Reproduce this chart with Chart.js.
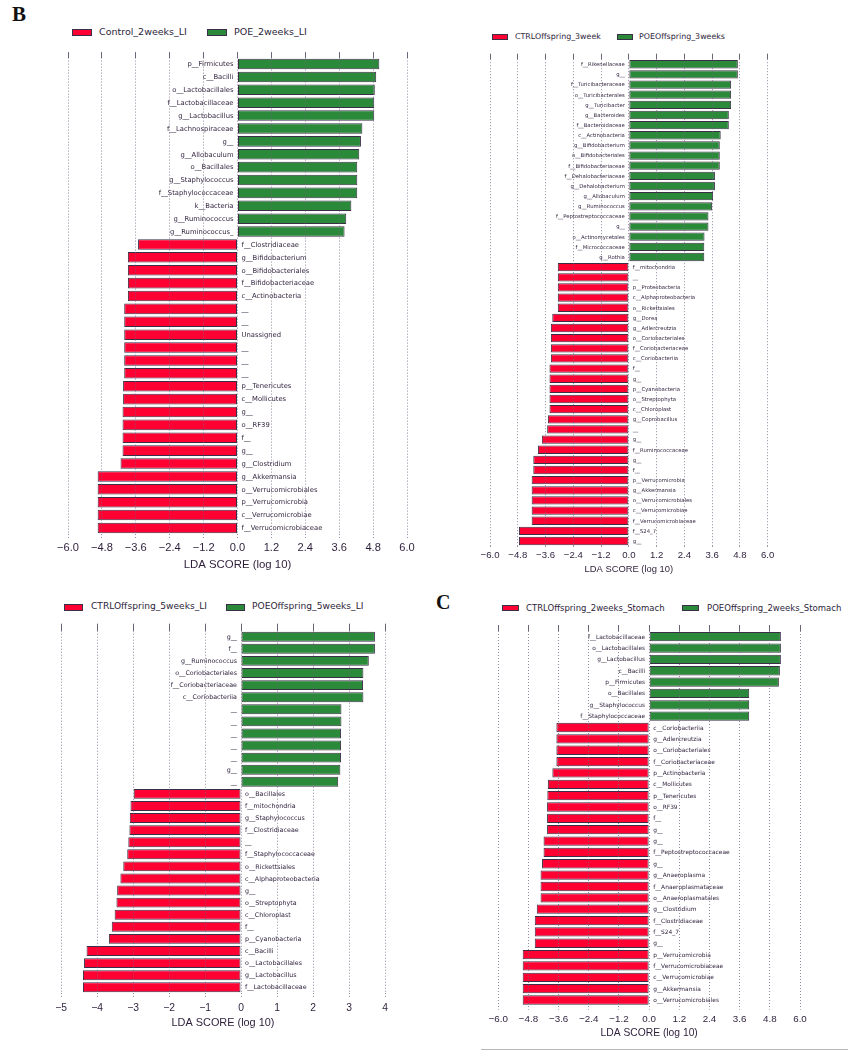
<!DOCTYPE html>
<html>
<head>
<meta charset="utf-8">
<script src="https://cdn.jsdelivr.net/npm/chart.js@4.4.0/dist/chart.umd.min.js"></script>
<style>
  html, body { margin: 0; padding: 0; background: #fff; }
  body { position: relative; width: 848px; height: 1050px; overflow: hidden; font-family: "DejaVu Sans", sans-serif; color: #2d1e3a; }
  canvas { position: absolute; }
  .panel-tag { position: absolute; font-family: "Liberation Serif", serif; font-weight: bold; line-height: 1; color: #111; }
  .swatch { position: absolute; box-sizing: border-box; border: 1px solid #3b2f47; }
  .leg-text { position: absolute; white-space: nowrap; line-height: 1; transform: translateY(-50%); }
  .rule { position: absolute; left: 481px; top: 1049px; width: 367px; height: 1px; background: #b8b8b8; }
</style>
</head>
<body>
<div class="panel-tag" style="left:12px; top:4px; font-size:21px;">B</div>
<div class="panel-tag" style="left:436px; top:592px; font-size:20px;">C</div>
<div class="rule"></div>
<script>
const RED = '#ff0033';
const GREEN = '#2b8a3a';
const EDGE = '#3b2f47';
const INK = '#2d1e3a';
const GRID = 'rgba(110,100,125,0.75)';

// top left: large intestine, 2 weeks
const groups2wLI = ['Control_2weeks_LI', 'POE_2weeks_LI'];
const taxa2wLI = ['p__Firmicutes', 'c__Bacilli', 'o__Lactobacillales', 'f__Lactobacillaceae', 'g__Lactobacillus',
  'f__Lachnospiraceae', 'g__', 'g__Allobaculum', 'o__Bacillales', 'g__Staphylococcus', 'f__Staphylococcaceae',
  'k__Bacteria', 'g__Ruminococcus', 'g__Ruminococcus_',
  'f__Clostridiaceae', 'g__Bifidobacterium', 'o__Bifidobacteriales', 'f__Bifidobacteriaceae', 'c__Actinobacteria',
  '__', '__', 'Unassigned', '__', '__', '__', 'p__Tenericutes', 'c__Mollicutes', 'g__', 'o__RF39', 'f__', 'g__',
  'g__Clostridium', 'g__Akkermansia', 'o__Verrucomicrobiales', 'p__Verrucomicrobia', 'c__Verrucomicrobiae',
  'f__Verrucomicrobiaceae'];
const lda2wLI = [5.02, 4.91, 4.86, 4.84, 4.84, 4.42, 4.37, 4.31, 4.24, 4.24, 4.24, 4.03, 3.85, 3.79,
  -3.52, -3.88, -3.88, -3.88, -3.88, -4.01, -4.01, -4.01, -4.01, -4.01, -4.01, -4.05, -4.05, -4.07, -4.07, -4.07, -4.07,
  -4.14, -4.95, -4.95, -4.95, -4.95, -4.95];

// top right: offspring 3 weeks
const groups3w = ['CTRLOffspring_3week', 'POEOffspring_3weeks'];
const taxa3w = ['f__Rikenellaceae', 'g__', 'f__Turicibacteraceae', 'o__Turicibacterales', 'g__Turicibacter',
  'g__Bacteroides', 'f__Bacteroidaceae', 'c__Actinobacteria', 'g__Bifidobacterium', 'o__Bifidobacteriales',
  'f__Bifidobacteriaceae', 'f__Dehalobacteriaceae', 'g__Dehalobacterium', 'g__Allobaculum', 'g__Ruminococcus',
  'f__Peptostreptococcaceae', 'g__', 'o__Actinomycetales', 'f__Micrococcaceae', 'g__Rothia',
  'f__mitochondria', '__', 'p__Proteobacteria', 'c__Alphaproteobacteria', 'o__Rickettsiales', 'g__Dorea',
  'g__Adlercreutzia', 'o__Coriobacteriales', 'f__Coriobacteriaceae', 'c__Coriobacteriia', 'f__', 'g__',
  'p__Cyanobacteria', 'o__Streptophyta', 'c__Chloroplast', 'g__Coprobacillus', '__', 'g__', 'f__Ruminococcaceae',
  'g__', 'f__', 'p__Verrucomicrobia', 'g__Akkermansia', 'o__Verrucomicrobiales', 'c__Verrucomicrobiae',
  'f__Verrucomicrobiaceae', 'f__S24_7', 'g__'];
const lda3w = [4.71, 4.71, 4.42, 4.42, 4.42, 4.32, 4.32, 3.97, 3.93, 3.93, 3.93, 3.72, 3.72, 3.64, 3.60,
  3.44, 3.44, 3.27, 3.26, 3.26,
  -3.07, -3.07, -3.07, -3.07, -3.07, -3.31, -3.37, -3.37, -3.37, -3.37, -3.43, -3.43, -3.43, -3.43, -3.43,
  -3.50, -3.53, -3.76, -3.93, -4.13, -4.13, -4.20, -4.20, -4.20, -4.20, -4.20, -4.75, -4.75];

// bottom left: offspring 5 weeks, large intestine
const groups5wLI = ['CTRLOffspring_5weeks_LI', 'POEOffspring_5weeks_LI'];
const taxa5wLI = ['g__', 'f__', 'g__Ruminococcus', 'o__Coriobacteriales', 'f__Coriobacteriaceae', 'c__Coriobacteriia',
  '__', '__', '__', '__', '__', 'g__', '__',
  'o__Bacillales', 'f__mitochondria', 'g__Staphylococcus', 'f__Clostridiaceae', '__', 'f__Staphylococcaceae',
  'o__Rickettsiales', 'c__Alphaproteobacteria', 'g__', 'o__Streptophyta', 'c__Chloroplast', 'f__',
  'p__Cyanobacteria', 'c__Bacilli', 'o__Lactobacillales', 'g__Lactobacillus', 'f__Lactobacillaceae'];
const lda5wLI = [3.72, 3.72, 3.55, 3.40, 3.39, 3.40, 2.79, 2.79, 2.78, 2.78, 2.78, 2.76, 2.70,
  -2.98, -3.07, -3.09, -3.10, -3.13, -3.16, -3.27, -3.35, -3.44, -3.46, -3.51, -3.59, -3.67,
  -4.29, -4.36, -4.39, -4.39];

// bottom right: offspring 2 weeks, stomach
const groups2wSt = ['CTRLOffspring_2weeks_Stomach', 'POEOffspring_2weeks_Stomach'];
const taxa2wSt = ['f__Lactobacillaceae', 'o__Lactobacillales', 'g__Lactobacillus', 'c__Bacilli', 'p__Firmicutes',
  'o__Bacillales', 'g__Staphylococcus', 'f__Staphylococcaceae',
  'c__Coriobacteriia', 'g__Adlercreutzia', 'o__Coriobacteriales', 'f__Coriobacteriaceae', 'p__Actinobacteria',
  'c__Mollicutes', 'p__Tenericutes', 'o__RF39', 'f__', 'g__', 'g__', 'f__Peptostreptococcaceae', 'g__',
  'g__Anaeroplasma', 'f__Anaeroplasmataceae', 'o__Anaeroplasmatales', 'g__Clostridium', 'f__Clostridiaceae',
  'f__S24_7', 'g__', 'p__Verrucomicrobia', 'f__Verrucomicrobiaceae', 'c__Verrucomicrobiae', 'g__Akkermansia',
  'o__Verrucomicrobiales'];
const lda2wSt = [5.24, 5.24, 5.24, 5.20, 5.16, 3.98, 3.98, 3.98,
  -3.69, -3.69, -3.69, -3.69, -3.85, -4.03, -4.05, -4.06, -4.06, -4.06, -4.20, -4.20, -4.26,
  -4.32, -4.32, -4.32, -4.47, -4.55, -4.55, -4.55, -5.03, -5.03, -5.03, -5.03, -5.03];

const ticksWide = [-6.0, -4.8, -3.6, -2.4, -1.2, 0.0, 1.2, 2.4, 3.6, 4.8, 6.0];
const ticks5w = [-5, -4, -3, -2, -1, 0, 1, 2, 3, 4];

// taxon names next to the zero line, on the side away from the bar
const barLabels = {
  id: 'barLabels',
  afterDatasetsDraw(chart, args, opts) {
    const { ctx } = chart;
    const x0 = chart.scales.x.getPixelForValue(0);
    const values = chart.data.datasets[0].data;
    ctx.save();
    ctx.font = opts.size + 'px "DejaVu Sans"';
    ctx.fillStyle = INK;
    ctx.textBaseline = 'middle';
    chart.getDatasetMeta(0).data.forEach((bar, i) => {
      const pos = values[i] > 0;
      ctx.textAlign = pos ? 'right' : 'left';
      ctx.fillText(chart.data.labels[i], pos ? x0 - 4 : x0 + 4, bar.y + 0.5);
    });
    ctx.restore();
  }
};

function makePanel(p) {
  const margin = 40;
  const cl = Math.floor(p.area.left - margin);
  const ct = Math.floor(p.area.top - p.topH - 3);
  const cw = Math.ceil(p.area.right + margin - cl);
  const ch = Math.ceil(p.area.bottom + p.axisH + 3 - ct);
  const canvas = document.createElement('canvas');
  canvas.width = cw;
  canvas.height = ch;
  Object.assign(canvas.style, { left: cl + 'px', top: ct + 'px', width: cw + 'px', height: ch + 'px' });
  document.body.appendChild(canvas);

  const fmt = v => (p.decimals ? v.toFixed(p.decimals) : String(v)).replace('-', '\u2212');
  const setTicks = scale => { scale.ticks = p.ticks.map(v => ({ value: v })); };

  new Chart(canvas, {
    type: 'bar',
    data: {
      labels: p.taxa,
      datasets: [{
        data: p.lda,
        backgroundColor: p.lda.map(v => v > 0 ? GREEN : RED),
        borderColor: EDGE,
        borderWidth: 1,
        borderSkipped: false,
        barPercentage: 0.82,
        categoryPercentage: 1
      }]
    },
    options: {
      indexAxis: 'y',
      responsive: false,
      animation: false,
      devicePixelRatio: 1,
      events: [],
      layout: {
        padding: {
          left: p.area.left - cl,
          right: cl + cw - p.area.right,
          top: p.area.top - p.topH - ct,
          bottom: ct + ch - p.area.bottom - p.axisH
        }
      },
      plugins: {
        legend: { display: false },
        tooltip: { enabled: false },
        barLabels: { size: p.labelSize }
      },
      scales: {
        y: { display: false },
        x: {
          type: 'linear',
          min: p.ticks[0],
          max: p.ticks[p.ticks.length - 1],
          afterBuildTicks: setTicks,
          afterFit: s => { s.height = p.axisH; },
          ticks: {
            autoSkip: false, maxRotation: 0, padding: p.tickPad, color: INK,
            font: { size: p.tickSize }, callback: v => fmt(v)
          },
          grid: { color: GRID, lineWidth: 1, z: 1, tickLength: p.tickLen, tickColor: GRID, tickBorderDash: [1, 2] },
          border: { display: false, dash: [1, 2] },
          title: { display: true, text: 'LDA SCORE (log 10)', color: INK, font: { size: p.titleSize }, padding: 0 }
        },
        xTop: {
          type: 'linear',
          axis: 'x',
          position: 'top',
          min: p.ticks[0],
          max: p.ticks[p.ticks.length - 1],
          afterBuildTicks: setTicks,
          afterFit: s => { s.height = p.topH; },
          ticks: { display: false },
          grid: { drawOnChartArea: false, tickLength: p.topH, tickColor: '#6e6478', tickBorderDash: [] },
          border: { display: false }
        }
      }
    },
    plugins: [barLabels]
  });

  const lg = p.legend;
  p.groups.forEach((name, i) => {
    const sw = document.createElement('div');
    sw.className = 'swatch';
    Object.assign(sw.style, {
      left: lg.items[i][0] + 'px', top: (lg.y - lg.sh / 2) + 'px',
      width: lg.sw + 'px', height: lg.sh + 'px', background: i === 0 ? RED : GREEN
    });
    const tx = document.createElement('div');
    tx.className = 'leg-text';
    tx.textContent = name;
    Object.assign(tx.style, { left: lg.items[i][1] + 'px', top: lg.y + 'px', fontSize: lg.size + 'px' });
    document.body.appendChild(sw);
    document.body.appendChild(tx);
  });
}

makePanel({
  taxa: taxa2wLI, lda: lda2wLI, groups: groups2wLI, ticks: ticksWide, decimals: 1,
  area: { left: 68, right: 407, top: 57.6, bottom: 534.4 },
  topH: 5.5, axisH: 37.3, tickLen: 4, tickPad: 3, tickSize: 11.1, titleSize: 11.4, labelSize: 6.8,
  legend: { y: 32, size: 9.5, sw: 20, sh: 7, items: [[72, 99], [207, 234]] }
});

makePanel({
  taxa: taxa3w, lda: lda3w, groups: groups3w, ticks: ticksWide, decimals: 1,
  area: { left: 490, right: 767.7, top: 59.2, bottom: 546.1 },
  topH: 5.5, axisH: 28.6, tickLen: 3, tickPad: 0.3, tickSize: 9.6, titleSize: 9.4, labelSize: 5.3,
  legend: { y: 37, size: 7.9, sw: 16, sh: 6, items: [[492, 515], [617, 639]] }
});

makePanel({
  taxa: taxa5wLI, lda: lda5wLI, groups: groups5wLI, ticks: ticks5w, decimals: 0,
  area: { left: 61, right: 385, top: 630.7, bottom: 993.3 },
  topH: 7, axisH: 36.5, tickLen: 5, tickPad: 4, tickSize: 10.3, titleSize: 10.9, labelSize: 6.35,
  legend: { y: 607, size: 9.1, sw: 19, sh: 7, items: [[64, 91], [226, 252]] }
});

makePanel({
  taxa: taxa2wSt, lda: lda2wSt, groups: groups2wSt, ticks: ticksWide, decimals: 1,
  area: { left: 498.3, right: 800, top: 631, bottom: 1005.7 },
  topH: 6, axisH: 33.8, tickLen: 4, tickPad: 3.7, tickSize: 9.8, titleSize: 10.3, labelSize: 5.9,
  legend: { y: 607.5, size: 8.5, sw: 17, sh: 6, items: [[502, 526], [682, 707]] }
});
</script>
</body>
</html>
